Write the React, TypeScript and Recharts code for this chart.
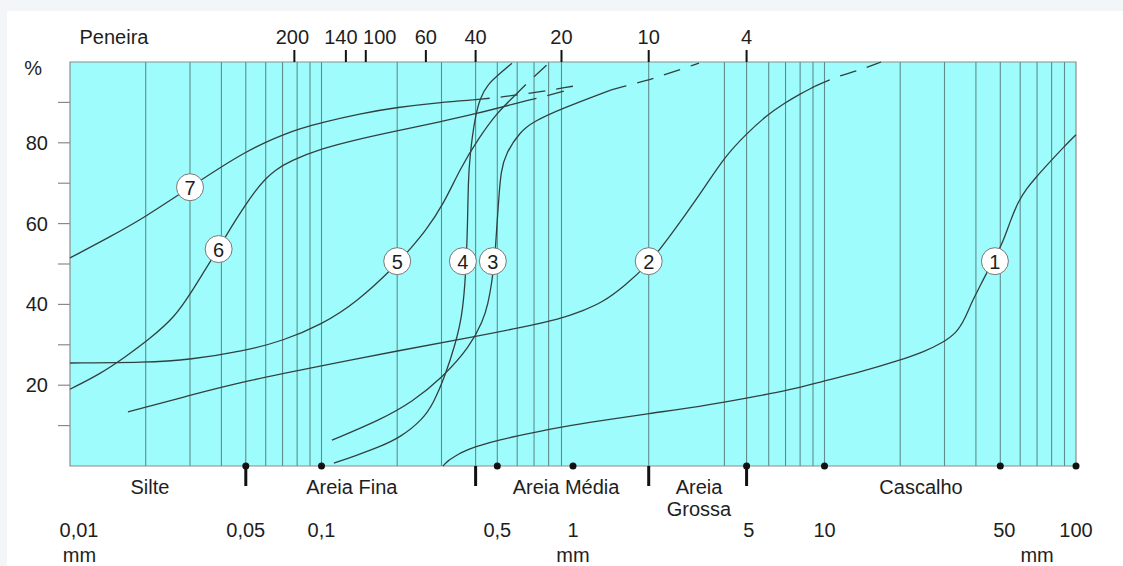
import React from 'react';
import {
  ComposedChart,
  Line,
  Scatter,
  XAxis,
  YAxis,
  ReferenceArea,
  ReferenceLine,
} from 'recharts';

// grain size curves: [diameter mm, % passing]
const curve1: [number, number][] = [
  [0.304, 0], [0.318, 1.3], [0.34, 2.4], [0.356, 3.2], [0.389, 4.3], [0.427, 5.1],
  [0.503, 6.4], [0.675, 8.1], [0.888, 9.6], [1.28, 11.2], [2, 13], [3.2, 14.7],
  [4.92, 16.8], [7.29, 18.8], [9.77, 20.9], [13.8, 23.2], [19.6, 26], [25.1, 28.4],
  [29.3, 30.4], [33.6, 33], [36.2, 36.5], [38.6, 40.7], [41.5, 44.5], [44.3, 48],
  [47.6, 51.5], [51.3, 55.5], [54.7, 60.5], [58.8, 65.4], [63.9, 68.8], [68.7, 71.2],
  [78.8, 75.3], [88, 78.5], [100, 82],
];
const curve2: [number, number][] = [
  [0.017, 13.4], [0.03, 17.5], [0.0497, 21], [0.1, 24.8], [0.2, 28.5], [0.405, 32],
  [0.61, 34.2], [0.89, 36.4], [1.1, 38.5], [1.31, 40.5], [1.6, 44.5], [2, 50],
  [2.37, 56], [2.82, 62.5], [3.3, 68.5], [4, 76.5], [4.94, 82.5], [5.9, 86.8],
  [6.85, 89.6], [7.95, 92], [9.1, 93.9],
];
const curve2Dashed: [number, number][] = [[9.1, 93.9], [11.2, 96.4], [13.2, 97.6], [16.8, 100]];
const curve3: [number, number][] = [
  [0.11, 6.4], [0.171, 11.4], [0.229, 15.8], [0.304, 22], [0.389, 29.5], [0.439, 36],
  [0.459, 40], [0.476, 45.5], [0.49, 52], [0.4985, 60], [0.508, 67], [0.517, 73],
  [0.541, 77.5], [0.616, 82.7], [0.693, 85.2], [0.904, 88.5], [1.404, 93],
];
const curve3Dashed: [number, number][] = [[1.404, 93], [1.58, 93.9], [1.98, 95.5], [2.2, 96.4], [3.17, 99.7]];
const curve4: [number, number][] = [
  [0.112, 0.7], [0.136, 2.5], [0.171, 4.8], [0.205, 7], [0.253, 11.5], [0.28, 15.8],
  [0.31, 22.3], [0.34, 30], [0.362, 37], [0.372, 45], [0.377, 52], [0.381, 60],
  [0.383, 70], [0.389, 77], [0.408, 86.5], [0.427, 91], [0.455, 94.3], [0.513, 97.2], [0.572, 99.7],
];
const curve5: [number, number][] = [
  [0.01, 25.5], [0.02, 25.6], [0.03, 26.3], [0.0497, 28.5], [0.0703, 31], [0.1, 35],
  [0.138, 40.5], [0.2, 50], [0.227, 54], [0.258, 58], [0.307, 65], [0.355, 73.5],
  [0.42, 81], [0.5, 87.5], [0.583, 91.5],
];
const curve5Dashed: [number, number][] = [[0.583, 91.5], [0.67, 95.3], [0.81, 100]];
const curve6: [number, number][] = [
  [0.01, 19], [0.0132, 22.8], [0.0166, 27], [0.0208, 31.5], [0.0262, 37], [0.03, 42.5],
  [0.0344, 48.5], [0.0391, 54], [0.0441, 59.5], [0.0497, 64.5], [0.0544, 68], [0.0596, 71],
  [0.0653, 73.2], [0.075, 75.5], [0.1, 78.6], [0.142, 81], [0.2, 83], [0.296, 85.2],
  [0.4, 87], [0.616, 90],
];
const curve6Dashed: [number, number][] = [[0.616, 90], [0.888, 92.5], [1.0, 93.4]];
const curve7: [number, number][] = [
  [0.01, 51.5], [0.0144, 56.7], [0.0199, 61.6], [0.03, 69], [0.0398, 74], [0.0497, 77.6],
  [0.0591, 80], [0.0703, 82], [0.0821, 83.5], [0.1, 85], [0.142, 87.2], [0.2, 88.8],
  [0.296, 90], [0.4, 90.6],
];
const curve7Dashed: [number, number][] = [[0.4, 90.6], [0.616, 91.8], [1.0, 94]];

const solidCurves = [curve1, curve2, curve3, curve4, curve5, curve6, curve7];
const dashedCurves = [curve2Dashed, curve3Dashed, curve5Dashed, curve6Dashed, curve7Dashed];

// circled curve numbers
const curveNames = ['1', '2', '3', '4', '5', '6', '7'];
const curveNameMm = [47.6, 2, 0.48, 0.365, 0.2, 0.039, 0.03];
const curveNamePct = [50.7, 50.7, 50.7, 50.7, 50.7, 53.7, 69];

const gridMm = [
  0.02, 0.03, 0.04, 0.05, 0.06, 0.07, 0.08, 0.09, 0.1,
  0.2, 0.3, 0.41, 0.5, 0.6, 0.7, 0.8, 0.9,
  2, 4, 4.9, 6, 7, 8, 9, 10,
  20, 30, 40, 50, 60, 70, 80, 90,
];

const percentTicks = [10, 20, 30, 40, 50, 60, 70, 80, 90, 100];
const percentLabels = [20, 40, 60, 80];

const sieveMm = [0.078, 0.125, 0.15, 0.26, 0.41, 0.9, 2, 4.9];
const sieveNames = ['200', '140', '100', '60', '40', '20', '10', '4'];

const sizeTicks = [0.01, 0.05, 0.1, 0.5, 1, 5, 10, 50, 100];
const sizeLabels = ['0,01', '0,05', '0,1', '0,5', '1', '5', '10', '50', '100'];
const unitMm = [0.0109, 1, 70];
const markerDots = [0.05, 0.1, 0.5, 1, 4.9, 10, 50, 100];
const fractionBounds = [0.05, 0.41, 2, 4.9];
const fractionNames = [['Silte'], ['Areia Fina'], ['Areia Média'], ['Areia', 'Grossa'], ['Cascalho']];
const fractionNameMm = [0.0208, 0.132, 0.938, 3.17, 24.2];

const FONT = '"Liberation Sans", Arial, sans-serif';
const TEXT = '#1e1e1e';
const INK = '#334040';

const sieveShift: Record<string, number> = { '200': -2, '140': -5, '100': 14 };
const sizeShift: Record<string, number> = { '0,01': 9, '50': 4 };

const rows = (pts: [number, number][]) => pts.map(([d, p]) => ({ d, p }));
const bottomTicks = Array.from(
  new Set([...sizeTicks, ...fractionBounds, ...fractionNameMm, ...unitMm]),
).sort((a, b) => a - b);

const SizeTick = (props: any) => {
  const { x, y, payload } = props;
  const v = payload.value;
  const i = sizeTicks.indexOf(v);
  const f = fractionNameMm.indexOf(v);
  return (
    <g fontFamily={FONT} fontSize={20} fill={TEXT}>
      {fractionBounds.includes(v) && (
        <line x1={x} x2={x} y1={y} y2={y + 20} stroke="#111" strokeWidth={3} />
      )}
      {i >= 0 && (
        <text x={x + (sizeShift[sizeLabels[i]] ?? 0)} y={y + 64} textAnchor="middle" dominantBaseline="central">
          {sizeLabels[i]}
        </text>
      )}
      {unitMm.includes(v) && (
        <text x={x} y={y + 89} textAnchor="middle" dominantBaseline="central">mm</text>
      )}
      {f >= 0 &&
        fractionNames[f].map((s, k) => (
          <text key={s} x={x} y={y + 21 + k * 22} textAnchor="middle" dominantBaseline="central">
            {s}
          </text>
        ))}
    </g>
  );
};

const SieveTick = (props: any) => {
  const { x, y, payload } = props;
  const name = sieveNames[sieveMm.indexOf(payload.value)];
  return (
    <g fontFamily={FONT} fontSize={20} fill={TEXT}>
      <line x1={x} x2={x} y1={y - 12} y2={y} stroke="#111" strokeWidth={2} />
      <text x={x + (sieveShift[name] ?? 0)} y={y - 25} textAnchor="middle" dominantBaseline="central">
        {name}
      </text>
    </g>
  );
};

const PercentTick = (side: 'left' | 'right') => (props: any) => {
  const { x, y, payload } = props;
  const v = payload.value;
  const s = side === 'left' ? -1 : 1;
  const anchor = side === 'left' ? 'end' : 'start';
  if (v === 100) {
    return (
      <text x={x + s * (side === 'left' ? 28 : 21)} y={y + 6} textAnchor={anchor} dominantBaseline="central"
        fontFamily={FONT} fontSize={20} fill={TEXT}>%</text>
    );
  }
  return (
    <g fontFamily={FONT} fontSize={20} fill={TEXT}>
      <line x1={x} x2={x + s * 12} y1={y} y2={y} stroke="#8a8a8a" strokeWidth={1.2} />
      {percentLabels.includes(v) && (
        <text x={x + s * 22} y={y} textAnchor={anchor} dominantBaseline="central">{v}</text>
      )}
    </g>
  );
};

const CurveBadge = (props: any) => {
  const { cx, cy, payload } = props;
  return (
    <g>
      <circle cx={cx} cy={cy} r={13.5} fill="#fff" stroke="#777" strokeWidth={1} />
      <text x={cx} y={cy + 1} textAnchor="middle" dominantBaseline="central" fontFamily={FONT} fontSize={20} fill={TEXT}>
        {payload.n}
      </text>
    </g>
  );
};

const Dot = (props: any) => <circle cx={props.cx} cy={props.cy} r={3.5} fill="#111" />;

const App = () => {
  const badges = curveNames.map((n, i) => ({ n, d: curveNameMm[i], p: curveNamePct[i] }));
  const dots = markerDots.map((d) => ({ d, p: 0 }));
  const sieveRows = sieveMm.map((d) => ({ d, p: 0 }));
  const ax = { xAxisId: 'mm', yAxisId: 'left' };

  return (
    <div style={{ position: 'fixed', left: 0, top: 0, width: 1123, height: 566, background: '#f2f6f9' }}>
      <div style={{ position: 'absolute', left: 7, top: 11, right: 0, bottom: 0, background: '#fff' }} />
      <div style={{ position: 'absolute', left: 0, top: 0 }}>
        <ComposedChart width={1123} height={566} margin={{ top: 0, right: 0, bottom: 0, left: 0 }}>
          <XAxis
            xAxisId="mm" dataKey="d" type="number" scale="log" domain={[0.01, 100]}
            ticks={bottomTicks} interval={0} height={100} tickSize={0} tickMargin={0}
            axisLine={false} tickLine={false} tick={<SizeTick />}
          />
          <XAxis
            xAxisId="sieve" orientation="top" dataKey="d" type="number" scale="log" domain={[0.01, 100]}
            allowDataOverflow ticks={sieveMm} interval={0} height={62} tickSize={0} tickMargin={0}
            axisLine={false} tickLine={false} tick={<SieveTick />}
            label={() => (
              <text x={114} y={37} textAnchor="middle" dominantBaseline="central" fontFamily={FONT} fontSize={20} fill={TEXT}>
                Peneira
              </text>
            )}
          />
          <YAxis
            yAxisId="left" type="number" domain={[0, 100]} ticks={percentTicks} interval={0} width={70}
            tickSize={0} tickMargin={0} axisLine={false} tickLine={false} tick={PercentTick('left')}
          />
          <YAxis
            yAxisId="right" orientation="right" type="number" domain={[0, 100]} ticks={percentTicks} interval={0}
            width={47} tickSize={0} tickMargin={0} axisLine={false} tickLine={false} tick={PercentTick('right')}
          />
          <ReferenceArea {...ax} x1={0.01} x2={100} y1={0} y2={100} fill="#9ffcfc" fillOpacity={1} stroke="#8c8c8c" strokeWidth={1.2} />
          {gridMm.map((v) => (
            <ReferenceLine key={v} {...ax} x={v} stroke="#5f8c8c" strokeWidth={1.1} />
          ))}
          <Line xAxisId="sieve" yAxisId="left" data={sieveRows} dataKey="p" stroke="none" dot={false}
            activeDot={false} isAnimationActive={false} />
          {solidCurves.map((c, i) => (
            <Line key={`s${i}`} {...ax} data={rows(c)} dataKey="p" type="basis" stroke={INK} strokeWidth={1.3}
              dot={false} activeDot={false} isAnimationActive={false} />
          ))}
          {dashedCurves.map((c, i) => (
            <Line key={`d${i}`} {...ax} data={rows(c)} dataKey="p" type="basis" stroke={INK} strokeWidth={1.3}
              strokeDasharray="17 11" dot={false} activeDot={false} isAnimationActive={false} />
          ))}
          <Scatter {...ax} data={dots} dataKey="p" shape={<Dot />} isAnimationActive={false} />
          <Scatter {...ax} data={badges} dataKey="p" shape={<CurveBadge />} isAnimationActive={false} />
        </ComposedChart>
      </div>
    </div>
  );
};

export default App;
